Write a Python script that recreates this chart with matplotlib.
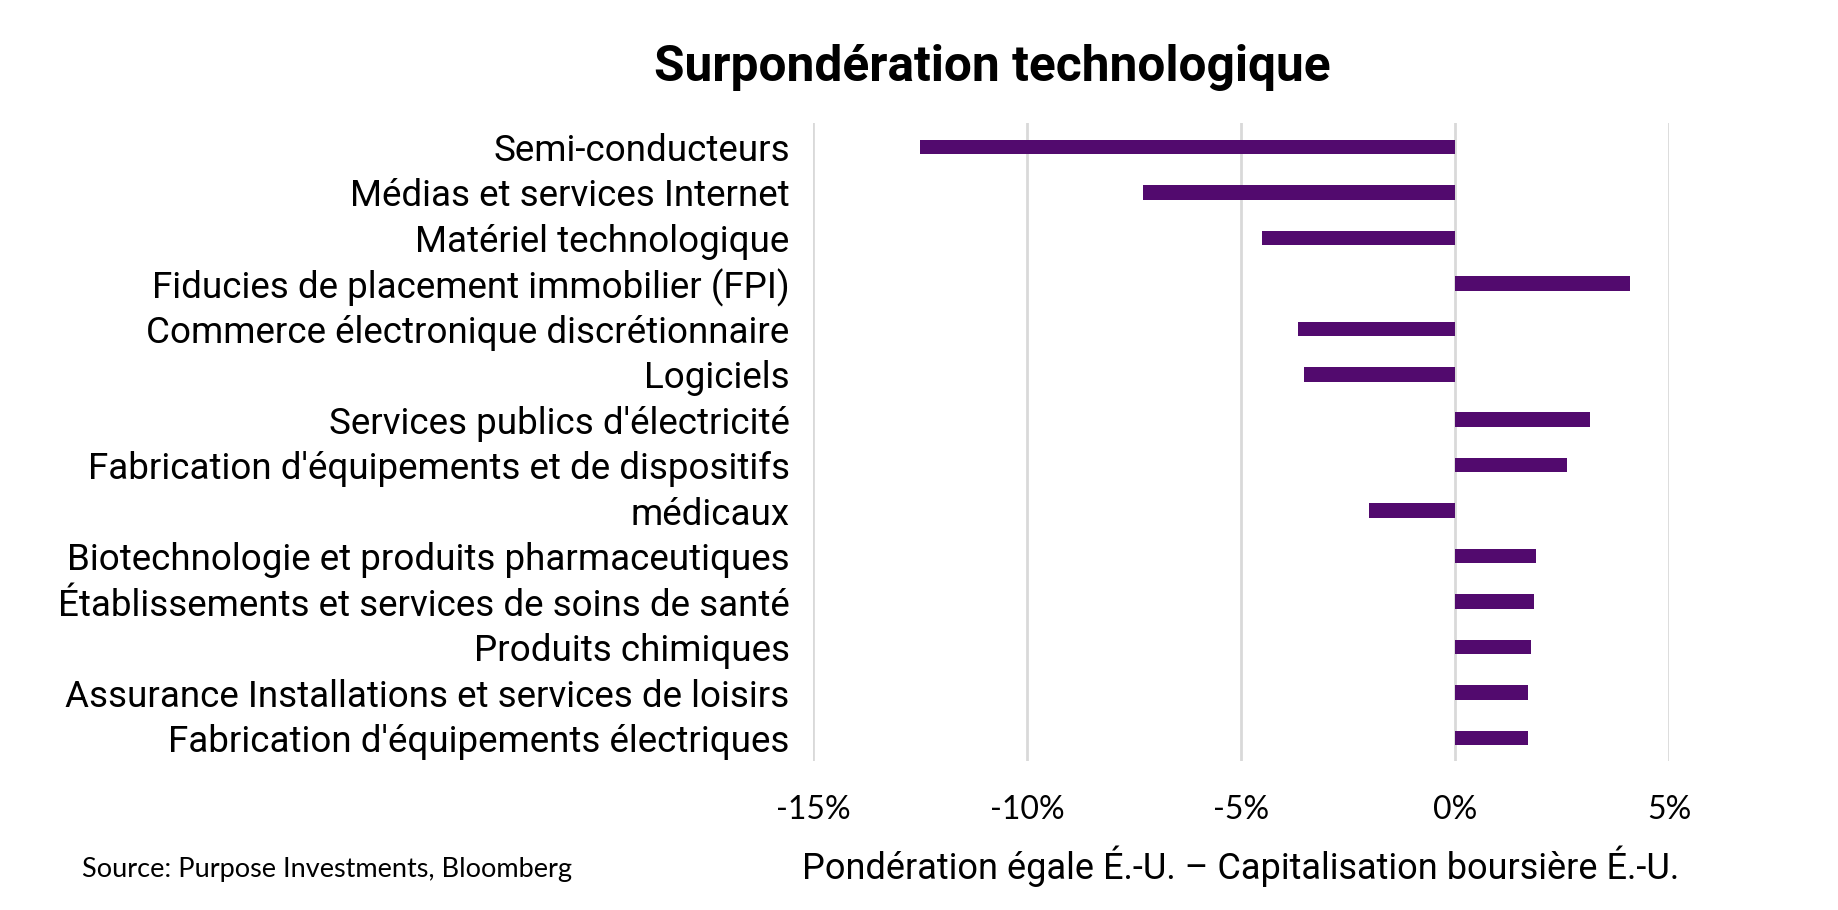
import matplotlib
matplotlib.use("Agg")
import matplotlib.pyplot as plt
from matplotlib.ticker import FuncFormatter

categories = [
    "Semi-conducteurs",
    "Médias et services Internet",
    "Matériel technologique",
    "Fiducies de placement immobilier (FPI)",
    "Commerce électronique discrétionnaire",
    "Logiciels",
    "Services publics d'électricité",
    "Fabrication d'équipements et de dispositifs",
    "médicaux",
    "Biotechnologie et produits pharmaceutiques",
    "Établissements et services de soins de santé",
    "Produits chimiques",
    "Assurance Installations et services de loisirs",
    "Fabrication d'équipements électriques",
]
values = [-12.5, -7.3, -4.5, 4.08, -3.67, -3.52, 3.16, 2.61, -2.0, 1.90, 1.84, 1.77, 1.70, 1.70]
x_ticks = [-15, -10, -5, 0, 5]

title = "Surpondération technologique"
xlabel = "Pondération égale É.-U. – Capitalisation boursière É.-U."
source = "Source: Purpose Investments, Bloomberg"

bar_color = "#520A6E"
grid_color = "#D9D9D9"

fig = plt.figure(figsize=(18.38, 9.10), dpi=100)
ax = fig.add_axes([0.4425, 0.164, 0.4655, 0.701])

ypos = list(range(len(categories)))
ax.barh(ypos, values, height=0.32, color=bar_color, zorder=3)

ax.set_xlim(-15, 5)
ax.set_ylim(len(categories) - 0.5, -0.53)
ax.set_xticks(x_ticks)
ax.xaxis.set_major_formatter(FuncFormatter(lambda v, p: f"{int(v)}%"))
ax.set_yticks(ypos)
ax.set_yticklabels(categories, fontsize=26.5, family="Roboto", color="black")
ax.tick_params(axis="y", length=0, pad=17)
ax.tick_params(axis="x", length=0, pad=25, labelsize=23, labelcolor="black")
for lab in ax.get_xticklabels():
    lab.set_family("Lato")

ax.grid(axis="x", color=grid_color, linewidth=2, zorder=0)
ax.grid(axis="y", visible=False)
for s in ax.spines.values():
    s.set_visible(False)

ax.set_xlabel(xlabel, fontsize=26, family="Roboto", va="center")
ax.xaxis.set_label_coords(0.5, -0.166)

fig.text(0.54, 0.926, title, ha="center", va="center", fontsize=35.7,
         fontweight="bold", family="Roboto")
fig.text(0.0446, 0.044, source, ha="left", va="center", fontsize=19.5, family="Lato")

fig.savefig("out.png", dpi=100)
